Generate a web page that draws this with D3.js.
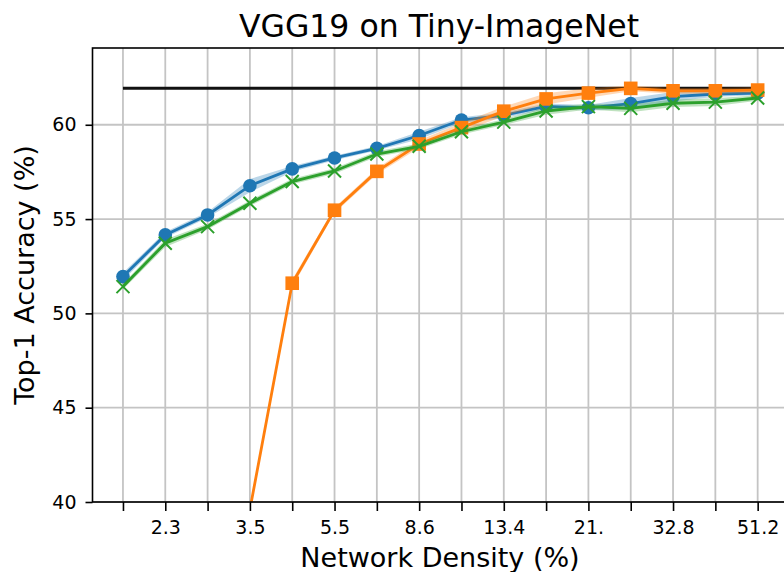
<!DOCTYPE html>
<html>
<head>
<meta charset="utf-8">
<script src="https://cdn.jsdelivr.net/npm/d3@7"></script>
<style>
  body { margin: 0; background: #fff; }
  text { font-family: "DejaVu Sans", sans-serif; fill: #000; }
</style>
</head>
<body>
<svg id="chart"></svg>
<script>
// density levels (%) and labels under the ticks (only every other one is shown)
const densityLabels = ['1.8', '2.3', '2.8', '3.5', '4.4', '5.5', '6.9', '8.6',
  '10.7', '13.4', '16.8', '21.', '26.2', '32.8', '41.', '51.2'];
const yTicks = [40, 45, 50, 55, 60];

// accuracy values
const blueAcc = [51.95, 54.16, 55.22, 56.77, 57.66, 58.24, 58.75, 59.43,
  60.25, 60.5, 60.98, 60.9, 61.12, 61.49, 61.63, 61.68];
const blueStd = [0.2, 0.15, 0.15, 0.35, 0.15, 0.12, 0.12, 0.2,
  0.15, 0.15, 0.15, 0.15, 0.3, 0.25, 0.15, 0.12];

const orangeStart = 3;
const orangeAcc = [39.6, 51.6, 55.47, 57.53, 58.98, 59.85, 60.72, 61.37,
  61.68, 61.93, 61.8, 61.8, 61.84];
const orangeStd = [0.2, 0.2, 0.15, 0.15, 0.2, 0.25, 0.25, 0.3,
  0.25, 0.15, 0.15, 0.15, 0.15];

const greenAcc = [51.42, 53.72, 54.6, 55.84, 56.99, 57.55, 58.45, 58.86,
  59.63, 60.14, 60.73, 60.96, 60.87, 61.14, 61.2, 61.42];
const greenStd = [0.15, 0.2, 0.15, 0.15, 0.15, 0.15, 0.15, 0.15,
  0.15, 0.15, 0.2, 0.15, 0.2, 0.2, 0.2, 0.15];

const denseAcc = 61.93;

const W = 784, H = 572;
const margin = { top: 48, left: 92.5, bottom: 70 };
const plotRight = 789.4;

const svg = d3.select('#chart')
  .attr('width', W)
  .attr('height', H);

const x = d3.scaleLinear()
  .domain([-0.72, 15.75])
  .range([margin.left, plotRight]);

const y = d3.scaleLinear()
  .domain([40, 64.07])
  .range([H - margin.bottom, margin.top]);

svg.append('defs').append('clipPath')
  .attr('id', 'clip')
  .append('rect')
  .attr('x', x.range()[0])
  .attr('y', y.range()[1])
  .attr('width', x.range()[1] - x.range()[0])
  .attr('height', y.range()[0] - y.range()[1]);

// grid
const grid = svg.append('g');
grid.selectAll('line.v')
  .data(densityLabels)
  .enter().append('line')
  .attr('x1', (d, i) => x(i))
  .attr('x2', (d, i) => x(i))
  .attr('y1', y.range()[0])
  .attr('y2', y.range()[1])
  .attr('stroke', '#c4c4c4')
  .attr('stroke-width', 1.8);
grid.selectAll('line.h')
  .data(yTicks)
  .enter().append('line')
  .attr('x1', x.range()[0])
  .attr('x2', x.range()[1])
  .attr('y1', d => y(d))
  .attr('y2', d => y(d))
  .attr('stroke', '#c4c4c4')
  .attr('stroke-width', 1.8);

const plot = svg.append('g').attr('clip-path', 'url(#clip)');

// dense baseline
plot.append('line')
  .attr('x1', x(0))
  .attr('x2', x(densityLabels.length - 1))
  .attr('y1', y(denseAcc))
  .attr('y2', y(denseAcc))
  .attr('stroke', '#111')
  .attr('stroke-width', 3);

const series = [
  { color: '#1f77b4', start: 0, acc: blueAcc, std: blueStd, marker: 'circle' },
  { color: '#ff7f0e', start: orangeStart, acc: orangeAcc, std: orangeStd, marker: 'square' },
  { color: '#2ca02c', start: 0, acc: greenAcc, std: greenStd, marker: 'x' }
];

series.forEach(s => {
  const pts = s.acc.map((v, k) => ({ i: k + s.start, v: v, sd: s.std[k] }));

  plot.append('path')
    .datum(pts)
    .attr('fill', s.color)
    .attr('fill-opacity', 0.3)
    .attr('d', d3.area()
      .x(d => x(d.i))
      .y0(d => y(d.v - d.sd))
      .y1(d => y(d.v + d.sd)));

  plot.append('path')
    .datum(pts)
    .attr('fill', 'none')
    .attr('stroke', s.color)
    .attr('stroke-width', 2.8)
    .attr('d', d3.line().x(d => x(d.i)).y(d => y(d.v)));

  const m = plot.selectAll(null)
    .data(pts)
    .enter();

  if (s.marker === 'circle') {
    m.append('circle')
      .attr('cx', d => x(d.i))
      .attr('cy', d => y(d.v))
      .attr('r', 6.8)
      .attr('fill', s.color);
  } else if (s.marker === 'square') {
    m.append('rect')
      .attr('x', d => x(d.i) - 6.8)
      .attr('y', d => y(d.v) - 6.8)
      .attr('width', 13.6)
      .attr('height', 13.6)
      .attr('fill', s.color);
  } else {
    const r = 6.5;
    m.append('path')
      .attr('transform', d => `translate(${x(d.i)},${y(d.v)})`)
      .attr('d', `M${-r},${-r}L${r},${r}M${-r},${r}L${r},${-r}`)
      .attr('stroke', s.color)
      .attr('stroke-width', 2)
      .attr('fill', 'none');
  }
});

// frame
svg.append('rect')
  .attr('x', x.range()[0])
  .attr('y', y.range()[1])
  .attr('width', x.range()[1] - x.range()[0])
  .attr('height', y.range()[0] - y.range()[1])
  .attr('fill', 'none')
  .attr('stroke', '#000')
  .attr('stroke-width', 1.6);

// axes
const xAxis = svg.append('g')
  .attr('transform', `translate(0,${y.range()[0]})`)
  .call(d3.axisBottom(x)
    .tickValues(d3.range(densityLabels.length))
    .tickFormat(i => (i % 2 === 1 ? densityLabels[i] : ''))
    .tickSize(9)
    .tickPadding(10)
    .tickSizeOuter(0));
xAxis.select('.domain').remove();
xAxis.selectAll('line').attr('stroke-width', 1.6);
xAxis.selectAll('text').attr('font-size', 19).attr('fill', '#000');

const yAxis = svg.append('g')
  .attr('transform', `translate(${x.range()[0]},0)`)
  .call(d3.axisLeft(y)
    .tickValues(yTicks)
    .tickSize(7)
    .tickPadding(9)
    .tickSizeOuter(0));
yAxis.select('.domain').remove();
yAxis.selectAll('line').attr('stroke-width', 1.6);
yAxis.selectAll('text').attr('font-size', 19).attr('fill', '#000');

// labels
svg.append('text')
  .attr('x', 439)
  .attr('y', 37)
  .attr('text-anchor', 'middle')
  .attr('font-size', 31.5)
  .text('VGG19 on Tiny-ImageNet');

svg.append('text')
  .attr('x', 440)
  .attr('y', 567)
  .attr('text-anchor', 'middle')
  .attr('font-size', 27)
  .text('Network Density (%)');

svg.append('text')
  .attr('transform', `translate(34,${(y.range()[0] + y.range()[1]) / 2}) rotate(-90)`)
  .attr('text-anchor', 'middle')
  .attr('font-size', 27)
  .text('Top-1 Accuracy (%)');
</script>
</body>
</html>
